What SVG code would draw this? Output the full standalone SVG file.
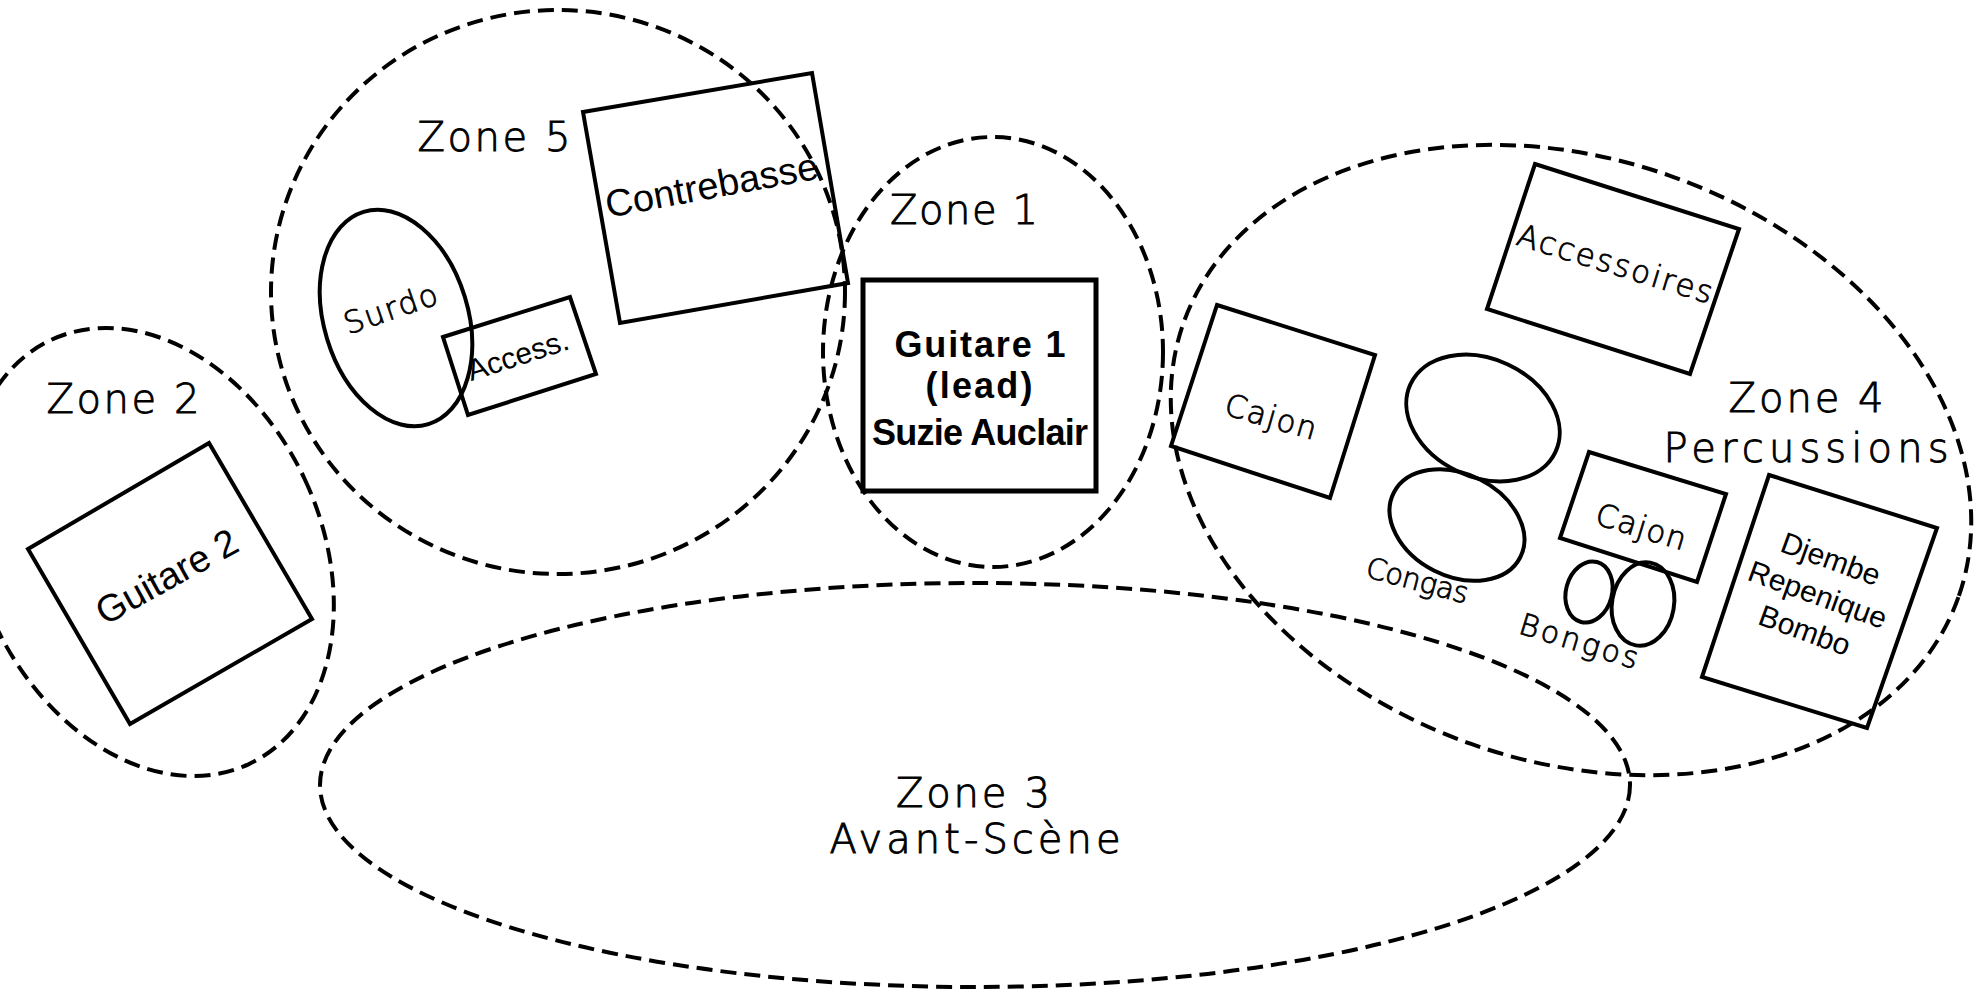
<svg xmlns="http://www.w3.org/2000/svg" width="1977" height="990" viewBox="0 0 1977 990">
<style>
.zone{fill:none;stroke:#000;stroke-width:4;stroke-dasharray:16 8}
.box{fill:none;stroke:#000;stroke-width:4}
.zl{font-family:"DejaVu Sans","Liberation Sans",sans-serif;font-weight:200;font-size:40px;fill:#000;stroke:#000;stroke-width:0.9;text-anchor:middle}
.tl{font-family:"DejaVu Sans","Liberation Sans",sans-serif;font-weight:200;font-size:29px;fill:#000;stroke:#000;stroke-width:0.8;text-anchor:middle}
.t{font-family:"Liberation Sans",Arial,sans-serif;font-size:30px;fill:#000;text-anchor:middle}
.tb{font-family:"Liberation Sans",Arial,sans-serif;font-size:36px;font-weight:bold;fill:#000;text-anchor:middle}
</style>
<rect width="1977" height="990" fill="#fff"/>
<g id="zone5">
<ellipse class="zone" cx="558" cy="292" rx="287" ry="282"/>
<text class="zl" x="494" y="151" textLength="153">Zone 5</text>
</g>
<g id="zone1">
<ellipse class="zone" cx="993" cy="352" rx="170" ry="215"/>
<text class="zl" x="964" y="224" textLength="148">Zone 1</text>
</g>
<g id="zone2">
<ellipse class="zone" cx="150" cy="552" rx="171" ry="234" transform="rotate(-25 150 552)"/>
<text class="zl" x="123" y="413" textLength="153">Zone 2</text>
</g>
<g id="zone3">
<ellipse class="zone" cx="975" cy="785" rx="655" ry="202"/>
<text class="zl" x="973" y="807" textLength="154">Zone 3</text>
<text class="zl" x="975" y="853" textLength="291">Avant-Scène</text>
</g>
<g id="zone4">
<ellipse class="zone" cx="1571" cy="460" rx="411" ry="301" transform="rotate(19.5 1571 460)"/>
<text class="zl" x="1806" y="412" textLength="155">Zone 4</text>
<text class="zl" x="1806" y="462" textLength="285">Percussions</text>
</g>
<g id="guitare2">
<polygon class="box" points="28,549 209,443 312,619 130,724"/>
<text class="t" style="font-size:38px" transform="translate(173 588) rotate(-29)">Guitare 2</text>
</g>
<g id="contrebasse">
<polygon class="box" points="583,112 812,73 848,283 620,323"/>
<text class="t" style="font-size:38px" transform="translate(714 198) rotate(-10.5)">Contrebasse</text>
</g>
<g id="surdo">
<ellipse class="box" cx="396" cy="318" rx="72" ry="111" transform="rotate(-17 396 318)"/>
<text class="tl" style="font-size:31px" transform="translate(394 319) rotate(-19)" textLength="97">Surdo</text>
</g>
<g id="access">
<polygon class="box" points="443,337 570,297 596,374 468,415"/>
<text class="t" transform="translate(521 365) rotate(-18)">Access.</text>
</g>
<g id="guitare1">
<rect x="863" y="280" width="233" height="211" fill="none" stroke="#000" stroke-width="5"/>
<text class="tb" x="980" y="357" textLength="171">Guitare 1</text>
<text class="tb" x="979" y="398" textLength="107">(lead)</text>
<text class="tb" x="980" y="445" textLength="216">Suzie Auclair</text>
</g>
<g id="accessoires">
<polygon class="box" points="1535,164 1739,229 1690,374 1487,309"/>
<text class="tl" style="font-size:31px" transform="translate(1612 274) rotate(17)" textLength="203">Accessoires</text>
</g>
<g id="cajon1">
<polygon class="box" points="1217,305 1375,355 1330,498 1171,446"/>
<text class="tl" style="font-size:31px" transform="translate(1268 427) rotate(16)" textLength="94">Cajon</text>
</g>
<g id="congas">
<ellipse class="box" cx="1483" cy="418" rx="80" ry="59" transform="rotate(25 1483 418)"/>
<ellipse class="box" cx="1457" cy="525" rx="71" ry="51" transform="rotate(27 1457 525)"/>
<text class="tl" transform="translate(1415 590) rotate(15)" textLength="105">Congas</text>
</g>
<g id="cajon2">
<polygon class="box" points="1589,452 1726,494 1697,582 1560,538"/>
<text class="tl" style="font-size:31px" transform="translate(1638 537) rotate(17)" textLength="93">Cajon</text>
</g>
<g id="bongos">
<ellipse class="box" cx="1589" cy="592" rx="23" ry="31" transform="rotate(15 1589 592)"/>
<ellipse class="box" cx="1643" cy="604" rx="31" ry="42" transform="rotate(10 1643 604)"/>
<text class="tl" style="font-size:30px" transform="translate(1576 651) rotate(17)" textLength="123">Bongos</text>
</g>
<g id="djembe">
<polygon class="box" points="1769,475 1937,528 1867,728 1702,677"/>
<g transform="translate(1818 594) rotate(20)">
<text class="t" x="0" y="-27">Djembe</text>
<text class="t" x="0" y="11">Repenique</text>
<text class="t" x="0" y="49">Bombo</text>
</g>
</g>
<g id="connectors"/>
</svg>
